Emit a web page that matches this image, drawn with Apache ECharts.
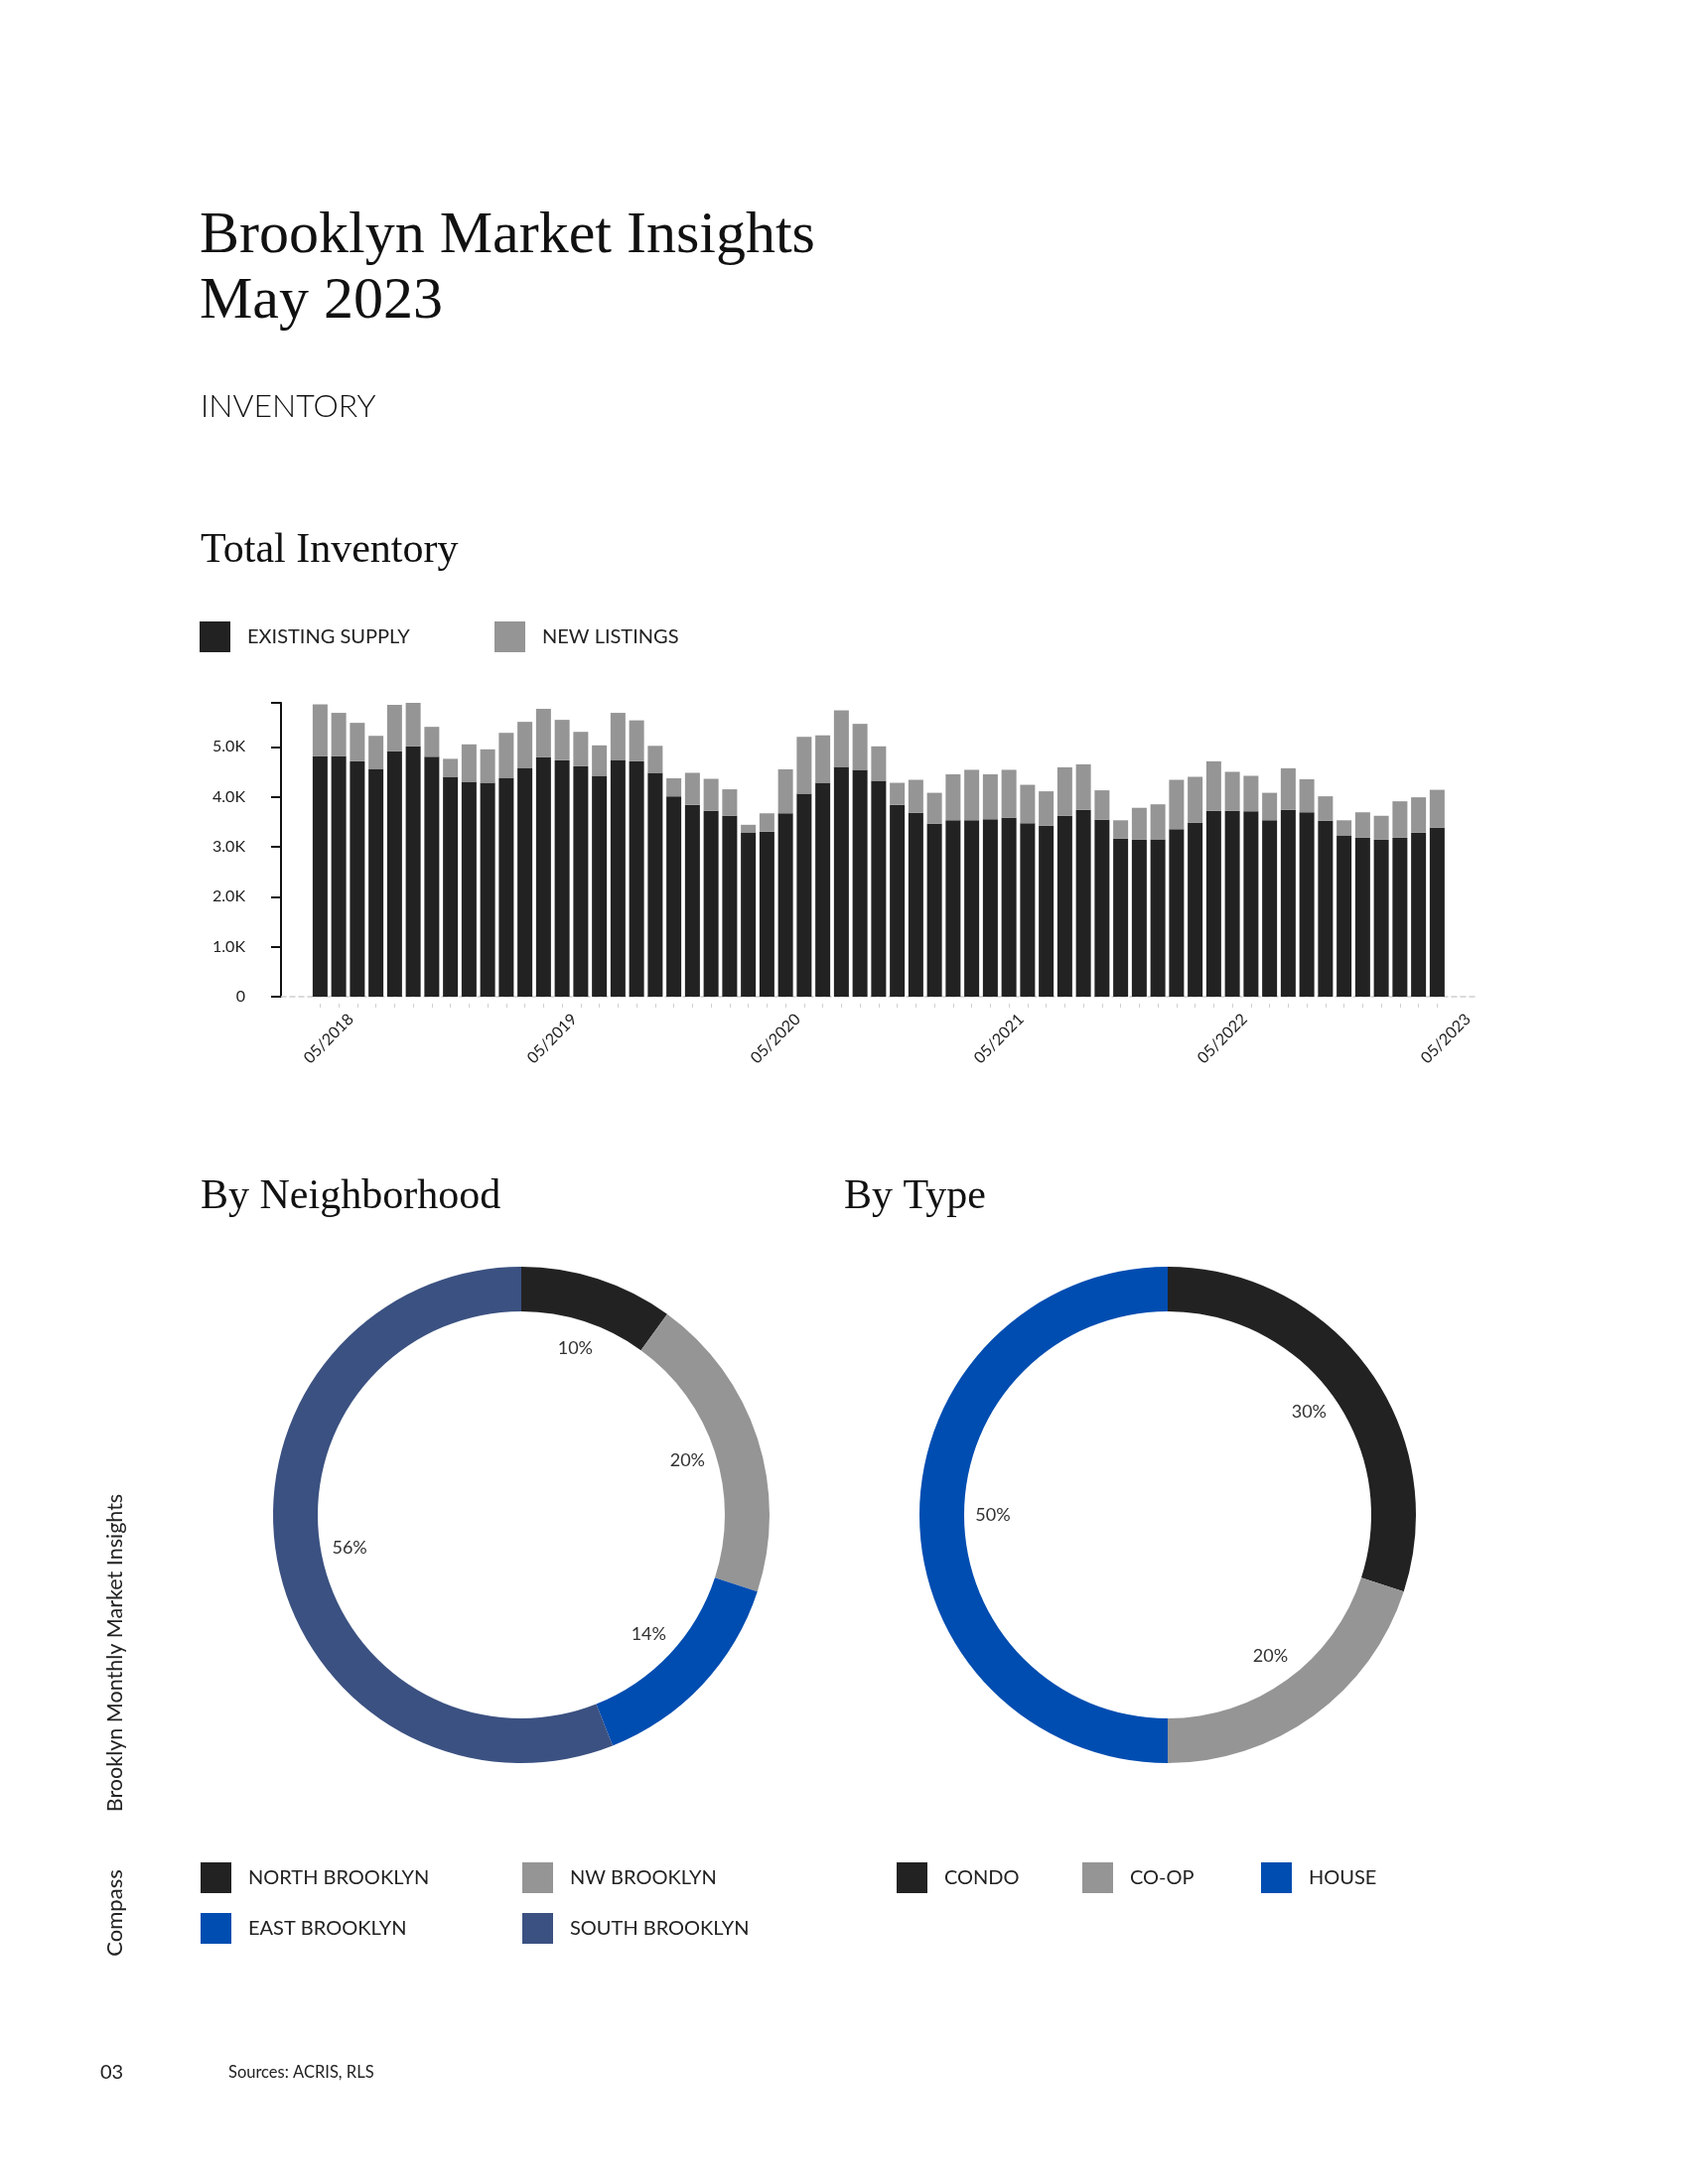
<!DOCTYPE html>
<html><head><meta charset="utf-8">
<script src="https://cdn.jsdelivr.net/npm/echarts@6/dist/echarts.min.js"></script>
<style>html,body{margin:0;padding:0;background:#fff}#c{width:1700px;height:2200px}</style>
</head><body><div id="c"></div>
<script>
// ---- data ----
const months = [];
const tickLabels = ['05/2018','05/2019','05/2020','05/2021','05/2022','05/2023'];
const tickIndex = [0, 12, 24, 36, 48, 60];
const existingSupply = [
  4810,4810,4710,4560,4910,5010,4800,4400,4300,4280,4380,4580,
  4790,4730,4610,4420,4740,4710,4480,4010,3840,3720,3620,3290,
  3300,3670,4060,4280,4600,4540,4320,3840,3680,3460,3530,3530,
  3550,3580,3470,3420,3620,3740,3540,3160,3140,3150,3350,3480,
  3720,3720,3710,3530,3740,3690,3520,3230,3180,3140,3180,3280,
  3380];
const newListings = [
  1040,870,770,660,930,870,600,360,750,670,900,920,
  970,810,690,610,940,820,540,360,640,640,530,150,
  370,880,1140,950,1130,920,690,440,660,620,920,1010,
  900,960,770,690,970,910,590,370,640,700,990,920,
  990,780,710,550,830,660,490,300,510,480,730,710,
  760];
const neighborhoodNames = ['NORTH BROOKLYN','NW BROOKLYN','EAST BROOKLYN','SOUTH BROOKLYN'];
const neighborhoodShares = [10, 20, 14, 56];
const typeNames = ['CONDO','CO-OP','HOUSE'];
const typeShares = [30, 20, 50];

// month categories 05/2018 .. 05/2023
for (let i = 0; i < existingSupply.length; i++) {
  const m = (4 + i) % 12 + 1, y = 2018 + Math.floor((4 + i) / 12);
  months.push(String(m).padStart(2, '0') + '/' + y);
}

// ---- styles / layout ----
const C_BLACK = '#222222', C_GRAY = '#959595', C_BLUE = '#004DB1', C_SLATE = '#3B5181';
const neighborhoodColors = [C_BLACK, C_GRAY, C_BLUE, C_SLATE];
const typeColors = [C_BLACK, C_GRAY, C_BLUE];
const SANS = 'Lato, "Open Sans", sans-serif';
const SERIF = '"Liberation Serif", "DejaVu Serif", serif';
const PITCH = 18.75, AXIS_X = 283, PAD = 2.1, LABEL_SHIFT = 1.65;
const N = existingSupply.length;
const barLeft = AXIS_X + (PAD - 0.5) * PITCH;
const barRight = 1700 - (barLeft + N * PITCH);
const decoRight = 1700 - (AXIS_X + (N - 1 + 2 * PAD) * PITCH);
const idx = existingSupply.map((_, i) => i);
const PIE_Y = 1526, PIE_R0 = 205, PIE_R = 250, LABEL_R = 346;

const legendText = {fontFamily: SANS, fontSize: 20, color: '#222', padding: [0, 0, 0, 12]};
function mkLegend(names, left, top) {
  return {data: names, left: left, top: top, orient: 'vertical', icon: 'rect',
    itemWidth: 31, itemHeight: 31, itemGap: 20, selectedMode: false, textStyle: legendText};
}
function ringSeries(names, values, colors, cx) {
  return {type: 'pie', center: [cx, PIE_Y], radius: [PIE_R0, PIE_R], startAngle: 90, clockwise: true,
    silent: true, label: {show: false}, labelLine: {show: false},
    data: names.map((n, i) => ({name: n, value: values[i], itemStyle: {color: colors[i]}}))};
}
function labelSeries(values, cx) {
  return {type: 'pie', center: [cx, PIE_Y], radius: [0, LABEL_R], startAngle: 90, clockwise: true,
    silent: true, z: 5, itemStyle: {color: 'rgba(0,0,0,0)'}, labelLine: {show: false},
    label: {show: true, position: 'inside', formatter: '{c}%', fontFamily: SANS, fontSize: 18, color: '#333'},
    data: values.map(v => ({value: v}))};
}

const chart = echarts.init(document.getElementById('c'), null, {renderer: 'canvas'});
chart.setOption({
  backgroundColor: '#ffffff',
  animation: false,
  title: [
    {text: 'Brooklyn Market Insights\nMay 2023', left: 196, top: 200,
      textStyle: {fontFamily: SERIF, fontWeight: 'normal', fontSize: 60, lineHeight: 66, color: '#111'}},
    {text: 'INVENTORY', left: 197, top: 389,
      textStyle: {fontFamily: SANS, fontWeight: 300, fontSize: 32, lineHeight: 32, color: '#111'}},
    {text: 'Total Inventory', left: 197, top: 529,
      textStyle: {fontFamily: SERIF, fontWeight: 'normal', fontSize: 42, lineHeight: 42, color: '#111'}},
    {text: 'By Neighborhood', left: 197, top: 1180,
      textStyle: {fontFamily: SERIF, fontWeight: 'normal', fontSize: 42, lineHeight: 42, color: '#111'}},
    {text: 'By Type', left: 845, top: 1180,
      textStyle: {fontFamily: SERIF, fontWeight: 'normal', fontSize: 42, lineHeight: 42, color: '#111'}}
  ],
  legend: [
    mkLegend(['EXISTING SUPPLY'], 196, 621),
    mkLegend(['NEW LISTINGS'], 493, 621),
    mkLegend(['NORTH BROOKLYN', 'EAST BROOKLYN'], 197, 1871),
    mkLegend(['NW BROOKLYN', 'SOUTH BROOKLYN'], 521, 1871),
    mkLegend(['CONDO'], 898, 1871),
    mkLegend(['CO-OP'], 1085, 1871),
    mkLegend(['HOUSE'], 1265, 1871)
  ],
  grid: [
    {left: barLeft, right: barRight, top: 708, bottom: 1196, containLabel: false},
    {left: AXIS_X, right: decoRight, top: 708, bottom: 1196, containLabel: false}
  ],
  xAxis: [
    {type: 'category', gridIndex: 0, data: months, show: false, boundaryGap: true},
    {type: 'value', gridIndex: 1, min: -PAD, max: N - 1 + PAD,
      splitLine: {show: false},
      axisLine: {show: true, onZero: false, lineStyle: {color: '#cfcfcf', width: 1.5, type: [5, 4]}},
      axisTick: {show: true, customValues: idx, length: 12,
        lineStyle: {color: '#d0d0d0', width: 1, type: [0, 7, 4, 20]}},
      axisLabel: {show: true, customValues: tickIndex.map(i => i + LABEL_SHIFT), rotate: 45, margin: 20,
        fontFamily: SANS, fontSize: 16, color: '#222',
        formatter: v => tickLabels[tickIndex.indexOf(Math.round(v - LABEL_SHIFT))] || ''}}
  ],
  yAxis: [
    {type: 'value', gridIndex: 0, min: 0, max: 'dataMax', interval: 1000, offset: barLeft - AXIS_X,
      splitLine: {show: false},
      axisLine: {show: true, lineStyle: {color: '#111', width: 2}},
      axisTick: {show: true, length: 10, lineStyle: {color: '#111', width: 2}},
      axisLabel: {margin: 36, fontFamily: SANS, fontSize: 16, color: '#222',
        formatter: v => (v % 1000 !== 0 ? '' : (v === 0 ? '0' : (v / 1000).toFixed(1) + 'K'))}},
    {type: 'value', gridIndex: 1, min: 0, max: 1, show: false}
  ],
  series: [
    {name: 'EXISTING SUPPLY', type: 'bar', stack: 'inv', barWidth: 15, silent: true,
      xAxisIndex: 0, yAxisIndex: 0, itemStyle: {color: C_BLACK}, data: existingSupply},
    {name: 'NEW LISTINGS', type: 'bar', stack: 'inv', barWidth: 15, silent: true,
      xAxisIndex: 0, yAxisIndex: 0, itemStyle: {color: C_GRAY}, data: newListings},
    ringSeries(neighborhoodNames, neighborhoodShares, neighborhoodColors, 525),
    labelSeries(neighborhoodShares, 525),
    ringSeries(typeNames, typeShares, typeColors, 1176),
    labelSeries(typeShares, 1176)
  ],
  graphic: [
    {type: 'text', x: 116, y: 1665, rotation: Math.PI / 2,
      style: {text: 'Brooklyn Monthly Market Insights', fontFamily: SANS, fontSize: 21.5, fill: '#222',
        align: 'center', verticalAlign: 'middle'}},
    {type: 'text', x: 116, y: 1927, rotation: Math.PI / 2,
      style: {text: 'Compass', fontFamily: SANS, fontSize: 22, fill: '#222',
        align: 'center', verticalAlign: 'middle'}},
    {type: 'text', x: 101, y: 2088,
      style: {text: '03', fontFamily: SANS, fontSize: 20, fill: '#222', align: 'left', verticalAlign: 'middle'}},
    {type: 'text', x: 230, y: 2088,
      style: {text: 'Sources: ACRIS, RLS', fontFamily: SANS, fontSize: 16.5, fill: '#222', align: 'left', verticalAlign: 'middle'}}
  ]
});
</script></body></html>
